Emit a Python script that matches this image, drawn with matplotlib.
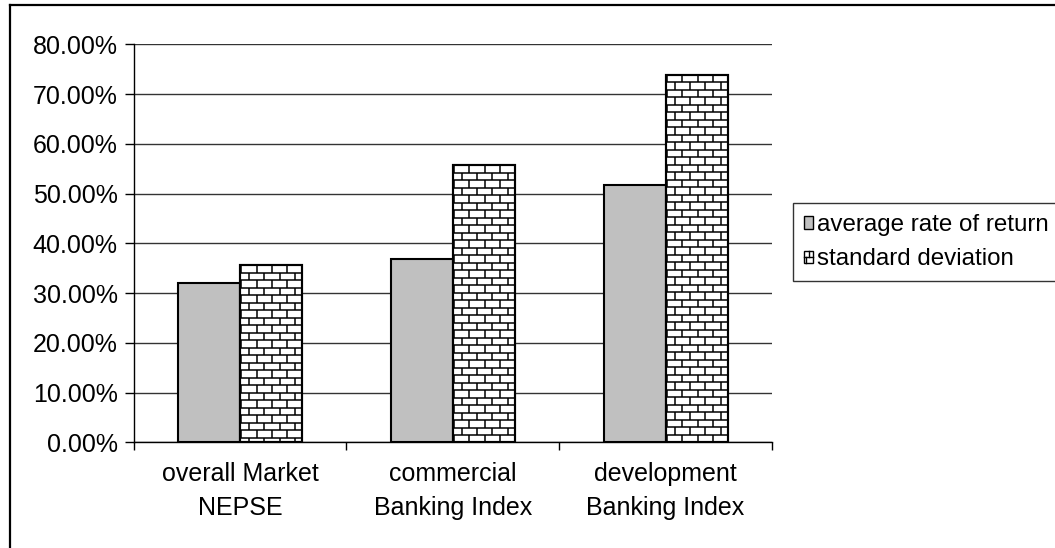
import matplotlib
matplotlib.use("Agg")
import matplotlib.pyplot as plt
import numpy as np
from matplotlib.collections import LineCollection
from matplotlib.lines import Line2D
from matplotlib.patches import Rectangle, Patch
from matplotlib.legend_handler import HandlerBase

plt.rcParams['font.family'] = ['Liberation Sans', 'DejaVu Sans']

# ---- data -------------------------------------------------------------
categories = ["overall Market\nNEPSE",
              "commercial\nBanking Index",
              "development\nBanking Index"]
avg_return = [31.96, 36.8, 51.7]      # average rate of return (%)
std_dev = [35.6, 55.7, 73.9]          # standard deviation (%)
series_labels = ["average rate of return", "standard deviation"]
y_ticks = [0, 10, 20, 30, 40, 50, 60, 70, 80]

# ---- figure / axes ----------------------------------------------------
W, H, DPI = 1055, 548, 100
fig = plt.figure(figsize=(W / DPI, H / DPI), dpi=DPI)
ax_l, ax_r, ax_t, ax_b = 133.5, 772, 44.3, 442.3
ax = fig.add_axes([ax_l / W, 1 - ax_b / H, (ax_r - ax_l) / W, (ax_b - ax_t) / H])

FS = 18
LEG_FS = 17.4
x = np.arange(len(categories))
bw = 0.291

ax.set_xlim(-0.5, len(categories) - 0.5)
ax.set_ylim(0, 80)

bars_avg = ax.bar(x - bw / 2, avg_return, bw, color="#c0c0c0",
                  edgecolor="black", linewidth=1.5, zorder=3)
bars_std = ax.bar(x + bw / 2, std_dev, bw, color="white",
                  edgecolor="black", linewidth=1.5, zorder=3)

# brick fill drawn in pixel units and clipped to each bar
row_h, brick_w = 7.5, 15.3
inv = ax.transData.inverted()
for bar in bars_std:
    (px0, py0), (px1, py1) = ax.transData.transform(
        [(bar.get_x(), 0), (bar.get_x() + bar.get_width(), bar.get_height())])
    segs = []
    k = 0
    ytop = py1
    while ytop > py0:
        ybot = ytop - row_h
        segs.append([(px0, ybot), (px1, ybot)])
        off = 1.4 + (k % 2) * brick_w / 2
        xv = px0 + off
        while xv < px1:
            segs.append([(xv, ytop), (xv, max(ybot, py0))])
            xv += brick_w
        ytop = ybot
        k += 1
    segs_data = [inv.transform(np.array(s)) for s in segs]
    lc = LineCollection(segs_data, colors="black", linewidths=1.1, zorder=3.5)
    lc.set_clip_path(bar)
    ax.add_collection(lc)
    # redraw the outline above the bricks
    ax.add_patch(Rectangle((bar.get_x(), 0), bar.get_width(), bar.get_height(),
                           fill=False, edgecolor="black", linewidth=1.5, zorder=4))

# ---- axes styling -----------------------------------------------------
ax.set_yticks(y_ticks)
ax.set_yticklabels([f"{v:.2f}%" for v in y_ticks])
ax.yaxis.grid(True, color="#333333", linewidth=1)
ax.set_axisbelow(True)
ax.tick_params(axis="y", length=6.5, width=1, pad=5, labelsize=FS, direction="out")

ax.set_xticks(x)
ax.set_xticklabels(categories, fontsize=FS, linespacing=1.55)
ax.tick_params(axis="x", which="major", length=0, pad=14)
ax.set_xticks(np.arange(-0.5, len(categories)), minor=True)
ax.tick_params(axis="x", which="minor", length=6, width=1, direction="out")

for s in ("top", "right"):
    ax.spines[s].set_visible(False)
for s in ("left", "bottom"):
    ax.spines[s].set_linewidth(1)
    ax.spines[s].set_color("black")


# ---- legend -----------------------------------------------------------
class BrickHandler(HandlerBase):
    def create_artists(self, legend, orig_handle, xdescent, ydescent,
                       width, height, fontsize, trans):
        x0, y0 = -xdescent, -ydescent
        rect = Rectangle((x0, y0), width, height, facecolor="white",
                         edgecolor="black", linewidth=1, transform=trans)
        ym = y0 + height / 2
        l1 = Line2D([x0, x0 + width], [ym, ym], color="black", lw=1, transform=trans)
        l2 = Line2D([x0 + width * 0.6] * 2, [ym, y0 + height], color="black", lw=1, transform=trans)
        l3 = Line2D([x0 + width * 0.3] * 2, [y0, ym], color="black", lw=1, transform=trans)
        return [rect, l1, l2, l3]


h_avg = Patch(facecolor="#c0c0c0", edgecolor="black", linewidth=1)
h_std = Patch(facecolor="white", edgecolor="black")
leg = fig.legend([h_avg, h_std], series_labels,
                 handler_map={h_std: BrickHandler()},
                 loc="upper left", bbox_to_anchor=(792.7 / W, 1 - 203.3 / H),
                 borderaxespad=0, fontsize=LEG_FS, frameon=True, fancybox=False,
                 handlelength=0.4, handleheight=0.4, handletextpad=0.14,
                 borderpad=0.45, labelspacing=0.5, framealpha=1)
leg.get_frame().set_edgecolor("#333333")
leg.get_frame().set_linewidth(1)

# ---- outer chart border (top and left edges) --------------------------
fig.add_artist(Line2D([10 / W, 1.01], [1 - 5 / H] * 2, color="black", lw=1.6,
                      transform=fig.transFigure))
fig.add_artist(Line2D([10 / W] * 2, [1 - 5 / H, -0.01], color="black", lw=1.6,
                      transform=fig.transFigure))

fig.savefig("out.png", dpi=DPI)
